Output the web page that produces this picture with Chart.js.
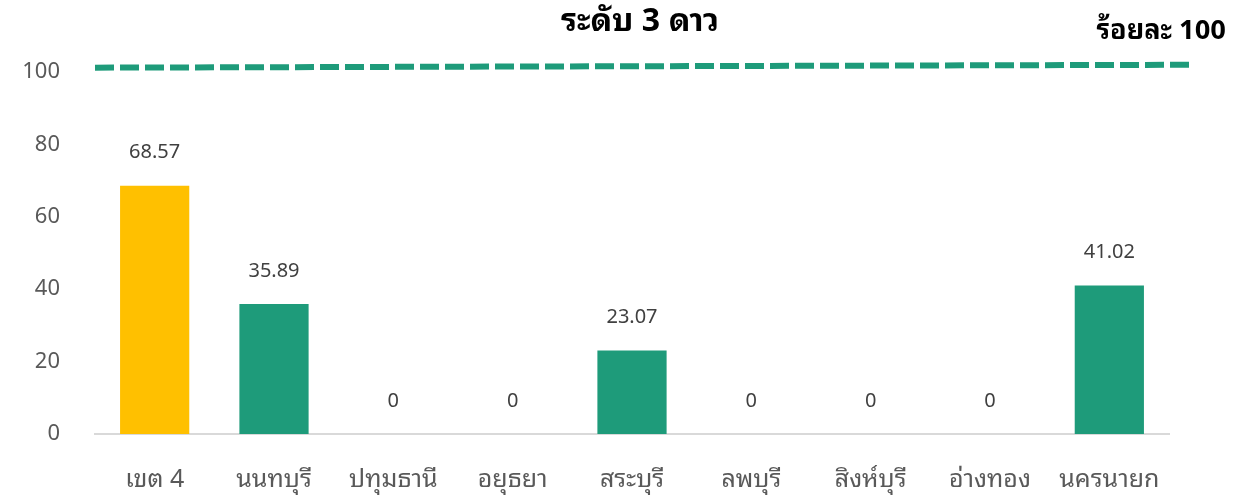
<!DOCTYPE html>
<html lang="th">
<head>
<meta charset="utf-8">
<script src="https://cdn.jsdelivr.net/npm/chart.js@4/dist/chart.umd.min.js"></script>
<style>
  html, body { margin: 0; padding: 0; background: #fff; }
  #wrap { width: 1239px; height: 496px; }
</style>
</head>
<body>
<div id="wrap"><canvas id="chart" width="1239" height="496"></canvas></div>
<script>
// ---------- 데이터 ----------
const CATEGORIES = ["เขต 4", "นนทบุรี", "ปทุมธานี", "อยุธยา", "สระบุรี", "ลพบุรี", "สิงห์บุรี", "อ่างทอง", "นครนายก"];
const VALUES = [68.57, 35.89, 0, 0, 23.07, 0, 0, 0, 41.02];
const Y_TICKS = [0, 20, 40, 60, 80, 100];
// target line (dashed), value read at its left and right ends
const TARGET_ENDS = [101.2, 102.0];
const TITLE = "ระดับ 3 ดาว";
const UNIT_LABEL = "ร้อยละ 100";

const COLORS = {
  yellow: "#FFC000",
  green: "#1E9B7A",
  axis: "#D9D9D9",
  tick: "#595959",
  label: "#404040"
};
const FONT = "'Noto Sans Thai Looped', 'Noto Sans Thai', 'Noto Sans', 'DejaVu Sans', sans-serif";

// ---------- 라벨 / 제목 플러그인 ----------
const valueLabels = {
  id: "valueLabels",
  afterDatasetsDraw(chart) {
    const { ctx } = chart;
    const meta = chart.getDatasetMeta(0);
    ctx.save();
    ctx.font = "20px " + FONT;
    ctx.fillStyle = COLORS.label;
    ctx.textAlign = "center";
    ctx.textBaseline = "middle";
    meta.data.forEach((bar, i) => {
      ctx.fillText(String(VALUES[i]), bar.x, bar.y - 33);
    });
    ctx.restore();
  }
};

const headings = {
  id: "headings",
  afterDraw(chart) {
    const { ctx } = chart;
    ctx.save();
    ctx.fillStyle = "#000";
    ctx.textBaseline = "middle";
    ctx.font = "bold 32px " + FONT;
    ctx.textAlign = "center";
    ctx.fillText(TITLE, 640, 22);
    ctx.font = "bold 27px " + FONT;
    ctx.textAlign = "right";
    ctx.fillText(UNIT_LABEL, 1226, 31);
    ctx.restore();
  }
};

// ---------- 차트 ----------
const barColors = VALUES.map((v, i) => (i === 0 ? COLORS.yellow : COLORS.green));

new Chart(document.getElementById("chart"), {
  data: {
    labels: CATEGORIES,
    datasets: [
      {
        type: "bar",
        data: VALUES,
        backgroundColor: barColors,
        grouped: false,
        categoryPercentage: 1,
        barPercentage: 0.58,
        order: 2
      },
      {
        type: "line",
        xAxisID: "xLine",
        data: [
          { x: -0.5, y: TARGET_ENDS[0] },
          { x: 8.7, y: TARGET_ENDS[1] }
        ],
        borderColor: COLORS.green,
        borderWidth: 6,
        borderDash: [19, 6],
        pointRadius: 0,
        clip: false,
        order: 1
      }
    ]
  },
  options: {
    responsive: false,
    animation: false,
    layout: { padding: { top: 72, right: 70, left: 0, bottom: 0 } },
    plugins: { legend: { display: false }, tooltip: { enabled: false } },
    scales: {
      x: {
        grid: { display: false, drawTicks: false },
        border: { display: true, color: COLORS.axis, width: 2 },
        ticks: { color: COLORS.tick, font: { size: 25, family: FONT }, padding: 31 },
        afterFit(scale) { scale.height = 62; }
      },
      xLine: {
        type: "linear",
        display: false,
        min: -0.5,
        max: 8.5
      },
      y: {
        min: 0,
        max: 100,
        grid: { display: false, drawTicks: false },
        border: { display: false },
        ticks: { color: COLORS.tick, font: { size: 22, family: FONT }, padding: 35 },
        afterBuildTicks(scale) { scale.ticks = Y_TICKS.map((v) => ({ value: v })); },
        afterFit(scale) { scale.width = 95; }
      }
    }
  },
  plugins: [valueLabels, headings]
});
</script>
</body>
</html>
